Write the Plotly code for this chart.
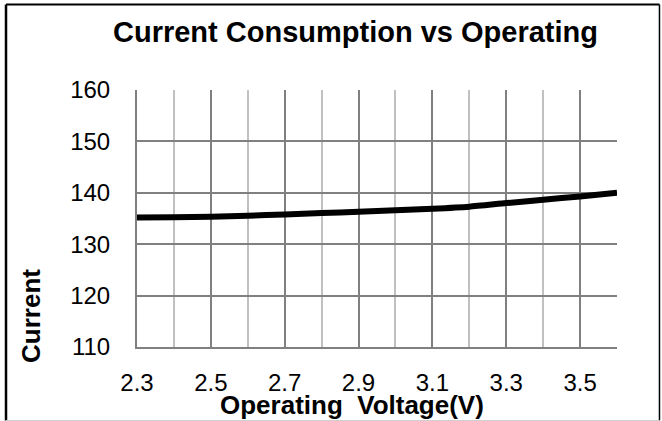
import plotly.graph_objects as go

voltage = [2.3, 2.4, 2.5, 2.6, 2.7, 2.8, 2.9, 3.0, 3.1, 3.2, 3.3, 3.4, 3.5, 3.6]
current = [135.2, 135.25, 135.35, 135.55, 135.8, 136.05, 136.3, 136.6, 136.9, 137.3, 138.0, 138.65, 139.3, 140.0]
x_tick_vals = [2.3, 2.5, 2.7, 2.9, 3.1, 3.3, 3.5]
x_tick_text = ["2.3", "2.5", "2.7", "2.9", "3.1", "3.3", "3.5"]
y_tick_vals = [110, 120, 130, 140, 150, 160]

title_text = "Current Consumption vs Operating"
x_title = "Operating  Voltage(V)"
y_title = "Current"

FONT = "Liberation Sans, Arial, sans-serif"

fig = go.Figure()
fig.add_trace(go.Scatter(
    x=voltage, y=current, mode="lines",
    line=dict(color="black", width=6, shape="spline", smoothing=0.6),
    showlegend=False, hoverinfo="skip",
))

fig.update_layout(
    width=662, height=421,
    margin=dict(l=137, r=45, t=90, b=74),
    paper_bgcolor="white", plot_bgcolor="white",
    font=dict(family=FONT, color="black", size=24),
    showlegend=False,
    xaxis=dict(
        range=[2.3, 3.6], tickvals=x_tick_vals, ticktext=x_tick_text,
        showgrid=True, gridcolor="#808080", gridwidth=2,
        minor=dict(dtick=0.1, tick0=2.3, showgrid=True, gridcolor="#c0c0c0", gridwidth=2),
        zeroline=False, showline=True, linecolor="#808080", linewidth=2,
        ticks="", ticklabelstandoff=13,
        tickfont=dict(size=24, family=FONT, color="black"),
    ),
    yaxis=dict(
        range=[110, 160], tickvals=y_tick_vals,
        showgrid=True, gridcolor="#808080", gridwidth=2,
        zeroline=False, showline=True, linecolor="#808080", linewidth=2,
        ticks="", ticklabelstandoff=20,
        tickfont=dict(size=24, family=FONT, color="black"),
    ),
    annotations=[
        dict(text="<b>" + title_text + "</b>", xref="paper", yref="paper",
             x=0.456, y=1.2257, xanchor="center", yanchor="middle", showarrow=False,
             font=dict(size=29, family=FONT, color="black")),
        dict(text="<b>" + x_title + "</b>", xref="paper", yref="paper",
             x=0.448, y=-0.226, xanchor="center", yanchor="middle", showarrow=False,
             font=dict(size=26, family=FONT, color="black")),
        dict(text="<b>" + y_title + "</b>", xref="paper", yref="paper",
             x=-0.221, y=0.1206, xanchor="center", yanchor="middle", showarrow=False,
             textangle=-90, font=dict(size=26, family=FONT, color="black")),
    ],
    shapes=[
        dict(type="line", xref="paper", yref="paper", x0=-0.2729, x1=1.0885, y0=1.3327, y1=1.3327,
             line=dict(color="black", width=2)),
        dict(type="line", xref="paper", yref="paper", x0=-0.2729, x1=-0.2729, y0=1.3327, y1=-0.286,
             line=dict(color="black", width=2.5)),
        dict(type="line", xref="paper", yref="paper", x0=1.0885, x1=1.0885, y0=1.3327, y1=-0.286,
             line=dict(color="black", width=1.5)),
        dict(type="line", xref="paper", yref="paper", x0=-0.2729, x1=1.0885, y0=-0.286, y1=-0.286,
             line=dict(color="#d0d0d0", width=1)),
    ],
)

fig.write_html(
    "out.html",
    config={"displayModeBar": False},
    post_script="document.body.style.margin='0';document.body.style.padding='0';document.body.style.overflow='hidden';",
)
